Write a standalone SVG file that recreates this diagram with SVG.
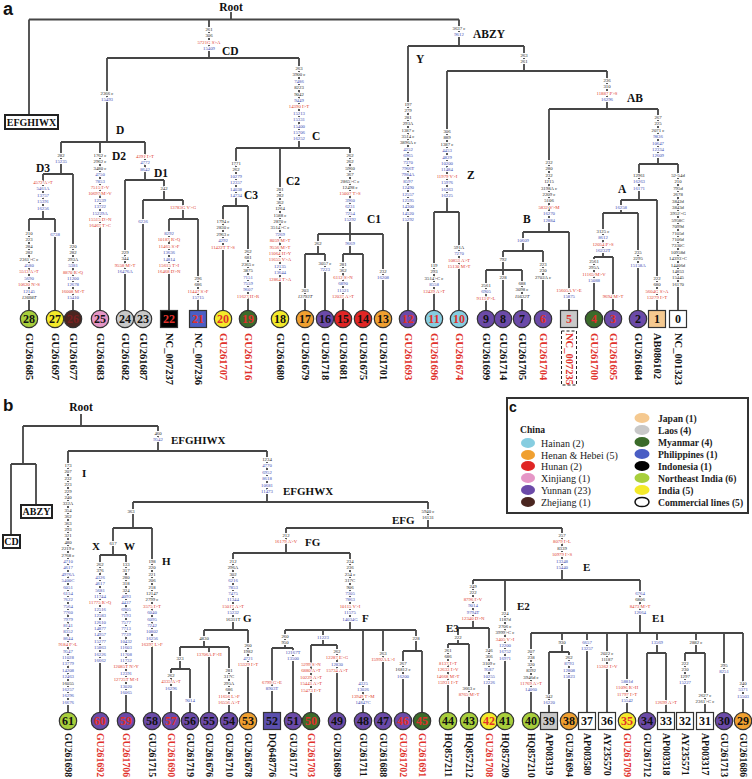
<svg xmlns="http://www.w3.org/2000/svg" width="752" height="779" viewBox="0 0 752 779">
<style>
.ln{fill:none;stroke:#454545;stroke-width:1.8}
.m{font-family:"Liberation Serif",serif;font-size:4.8px;text-anchor:middle;paint-order:stroke;stroke:#fff;stroke-width:2.2px;stroke-linejoin:round}
.k{fill:#222}.b{fill:#3c49b3}.r{fill:#e03a2c}
.cl{font-family:"Liberation Serif",serif;font-weight:bold;font-size:11.5px;fill:#111}
.cb{font-family:"Liberation Serif",serif;font-weight:bold;font-size:11px;fill:#111}
.lf{font-family:"Liberation Serif",serif;font-weight:bold;font-size:10.5px;fill:#111}
#leaves-b .lf{font-size:9.8px}
.lr{fill:#e0302a}
.n{font-family:"Liberation Serif",serif;font-weight:bold;font-size:12px;text-anchor:middle;fill:#111}
.nr{fill:#e0302a}
.s{stroke:#333;stroke-width:1.2}
.bx{fill:#fff;stroke:#222;stroke-width:2}
.bt{font-family:"Liberation Serif",serif;font-weight:bold;font-size:10px;fill:#111;text-anchor:middle}
.pl{font-family:"Liberation Sans",Arial,sans-serif;font-weight:bold;fill:#111}
.lg{font-family:"Liberation Serif",serif;font-size:10px;fill:#222}
.lgb{font-family:"Liberation Serif",serif;font-size:9.6px;font-weight:bold;fill:#222}
</style>
<rect width="752" height="779" fill="#fff"/>
<text class="pl" x="3" y="15" font-size="18">a</text>
<text class="pl" x="3" y="411" font-size="17">b</text>

<g id="connectors">
<path class="ln" d="M231 12V19.5 M29 19.5H459 M29 19.5V115 M209 19.5V58 M107 58H299 M107 58V142 M61 142H145 M61 142V174 M43 174H73 M43 174V219 M29 219H55 M29 219V310.3 M55 219V310.3 M73 174V310.3 M100 142V310.3 M145 142V180 M125 180H164 M125 180V310.3 M164 180V200 M143 200H183 M143 200V310.3 M183 200V219 M169 219H198 M169 219V310.3 M198 219V310.3 M299 58V148 M236 148H350 M236 148V206 M223 206H248 M223 206V310.3 M248 206V310.3 M280 148V310.3 M350 148V234 M318 234H383 M318 234V254 M305 254H325 M305 254V310.3 M325 254V310.3 M350 234V254 M343 254H363 M343 254V310.3 M363 254V310.3 M383 234V310.3 M459 19.5V46 M408 46H524 M408 46V310.3 M524 46V71 M447 71H607 M447 71V212 M434 212H459 M434 212V310.3 M459 212V310.3 M607 71V109 M549 109H658 M549 109V232 M523 232H569 M523 232V251 M503 251H543 M503 251V270 M486 270H522 M486 270V310.3 M503 270V310.3 M522 270V310.3 M543 251V310.3 M569 232V310.3 M658 109V164 M639 164H678 M639 164V200 M621 200H657 M621 200V213 M603 213H638 M603 213V257 M594 257H613 M594 257V310.3 M613 257V310.3 M638 213V310.3 M657 200V310.3 M678 164V310.3"/>
<path class="ln" d="M81 414V426 M23 426H158 M23 426V464 M11 464H36 M11 464V535 M36 464V505 M158 426V451 M68 451H267 M68 451V712.3 M267 451V502 M133 502H428 M133 502V528 M113 528H152 M113 528V555 M100 555H126 M100 555V712.3 M126 555V712.3 M152 528V712.3 M428 502V528 M286 528H562 M286 528V553 M233 553H350 M233 553V630 M204 630H248 M204 630V647 M180 647H229 M180 647V669 M171 669H190 M171 669V712.3 M190 669V712.3 M209 647V712.3 M229 647V712.3 M248 630V712.3 M350 553V630 M285 630H416 M285 630V648 M272 648H293 M272 648V712.3 M293 648V712.3 M323 630V645 M311 645H337 M311 645V712.3 M337 645V712.3 M363 630V712.3 M383 630V712.3 M416 630V651 M403 651H422 M403 651V712.3 M422 651V712.3 M562 528V580 M473 580H640 M473 580V628 M458 628H489 M458 628V644 M448 644H469 M448 644V712.3 M469 644V712.3 M489 628V712.3 M505 580V712.3 M640 580V633 M531 633H743 M531 633V712.3 M562 633V652 M549 652H569 M549 652V712.3 M569 652V712.3 M587 633V712.3 M607 633V712.3 M627 633V712.3 M657 633V653 M647 653H666 M647 653V712.3 M666 653V712.3 M696 633V653 M685 653H705 M685 653V712.3 M705 653V712.3 M724 633V712.3 M743 633V712.3"/>
</g>

<g id="mutations-a">
<text class="m" x="209" y="31"><tspan class="k">261</tspan><tspan x="209" dy="6.4" class="k">306</tspan><tspan x="209" dy="6.4" class="r">5721G S&gt;A</tspan><tspan x="209" dy="6.4" class="b">15409</tspan></text>
<text class="m" x="459" y="30"><tspan class="k">3637 c</tspan><tspan x="459" dy="6.4" class="b">9612</tspan></text>
<text class="m" x="107" y="95"><tspan class="k">2366 c</tspan><tspan x="107" dy="6.4" class="b">15493</tspan></text>
<text class="m" x="61" y="157"><tspan class="k">282</tspan><tspan x="61" dy="6.4" class="b">15235</tspan></text>
<text class="m" x="100" y="157"><tspan class="k">1762 c</tspan><tspan x="100" dy="6.4" class="k">2962 c</tspan><tspan x="100" dy="6.4" class="k">3480 c</tspan><tspan x="100" dy="6.4" class="b">4750</tspan><tspan x="100" dy="6.4" class="b">7853</tspan><tspan x="100" dy="6.4" class="r">7515 I&gt;V</tspan><tspan x="100" dy="6.4" class="r">10697 M&gt;V</tspan><tspan x="100" dy="6.4" class="b">12539</tspan><tspan x="100" dy="6.4" class="b">13722</tspan><tspan x="100" dy="6.4" class="b">15229A</tspan><tspan x="100" dy="6.4" class="r">15515 D&gt;N</tspan><tspan x="100" dy="6.4" class="r">16467 T&gt;C</tspan></text>
<text class="m" x="145" y="158"><tspan class="r">4291 I&gt;T</tspan><tspan x="145" dy="6.4" class="b">4772</tspan><tspan x="145" dy="6.4" class="b">8642</tspan></text>
<text class="m" x="164" y="190"><tspan class="k">242</tspan></text>
<text class="m" x="43" y="184"><tspan class="r">4572 A&gt;T</tspan><tspan x="43" dy="6.4" class="b">5461A</tspan><tspan x="43" dy="6.4" class="b">13757</tspan><tspan x="43" dy="6.4" class="b">15391</tspan><tspan x="43" dy="6.4" class="b">16256</tspan></text>
<text class="m" x="29" y="235"><tspan class="k">210</tspan><tspan x="29" dy="6.4" class="k">223</tspan><tspan x="29" dy="6.4" class="k">284</tspan><tspan x="29" dy="6.4" class="k">282</tspan><tspan x="29" dy="6.4" class="k">2361&gt;C c</tspan><tspan x="29" dy="6.4" class="b">4580</tspan><tspan x="29" dy="6.4" class="r">5513 A&gt;T</tspan><tspan x="29" dy="6.4" class="b">5690</tspan><tspan x="29" dy="6.4" class="r">10620 N&gt;S</tspan><tspan x="29" dy="6.4" class="b">12145</tspan><tspan x="29" dy="6.4" class="k" font-style="italic">13608T</tspan></text>
<text class="m" x="55" y="236"><tspan class="b">6738</tspan></text>
<text class="m" x="73" y="248"><tspan class="k">220</tspan><tspan x="73" dy="6.4" class="k">282</tspan><tspan x="73" dy="6.4" class="k">293A</tspan><tspan x="73" dy="6.4" class="b">5381</tspan><tspan x="73" dy="6.4" class="r">8870 R&gt;Q</tspan><tspan x="73" dy="6.4" class="b">11200</tspan><tspan x="73" dy="6.4" class="b">12678</tspan><tspan x="73" dy="6.4" class="r">16008 M&gt;T</tspan><tspan x="73" dy="6.4" class="b">15410</tspan></text>
<text class="m" x="125" y="254"><tspan class="k">229</tspan><tspan x="125" dy="6.4" class="k">344</tspan><tspan x="125" dy="6.4" class="r">9558 M&gt;T</tspan><tspan x="125" dy="6.4" class="b">16476A</tspan></text>
<text class="m" x="183" y="209"><tspan class="r">13783G V&gt;G</tspan></text>
<text class="m" x="143" y="223"><tspan class="b">6236</tspan></text>
<text class="m" x="169" y="235"><tspan class="b">8292</tspan><tspan x="169" dy="6.4" class="r">10187 R&gt;Q</tspan><tspan x="169" dy="6.4" class="r">11465 S&gt;F</tspan><tspan x="169" dy="6.4" class="b">13636</tspan><tspan x="169" dy="6.4" class="b">14814</tspan><tspan x="169" dy="6.4" class="r">15615 T&gt;I</tspan><tspan x="169" dy="6.4" class="r">16468 D&gt;N</tspan></text>
<text class="m" x="198" y="280"><tspan class="k">296</tspan><tspan x="198" dy="6.4" class="k">686</tspan><tspan x="198" dy="6.4" class="r">11447 S&gt;F</tspan><tspan x="198" dy="6.4" class="b">15715</tspan></text>
<text class="m" x="299" y="70"><tspan class="k">263</tspan><tspan x="299" dy="6.4" class="k">3900 c</tspan><tspan x="299" dy="6.4" class="b">7486</tspan><tspan x="299" dy="6.4" class="k">8223</tspan><tspan x="299" dy="6.4" class="k">9042</tspan><tspan x="299" dy="6.4" class="b">9449</tspan><tspan x="299" dy="6.4" class="r">14390 I&gt;T</tspan><tspan x="299" dy="6.4" class="b">15213</tspan><tspan x="299" dy="6.4" class="b">15331</tspan><tspan x="299" dy="6.4" class="b">15400</tspan><tspan x="299" dy="6.4" class="b">15706</tspan><tspan x="299" dy="6.4" class="b">16252</tspan></text>
<text class="m" x="236" y="165"><tspan class="k">1771</tspan><tspan x="236" dy="6.4" class="k">262</tspan><tspan x="236" dy="6.4" class="b">10279</tspan><tspan x="236" dy="6.4" class="b">12357</tspan><tspan x="236" dy="6.4" class="b">14038</tspan><tspan x="236" dy="6.4" class="b">14734</tspan></text>
<text class="m" x="223" y="223"><tspan class="k">1794 c</tspan><tspan x="223" dy="6.4" class="k">2830 c</tspan><tspan x="223" dy="6.4" class="k">2963 c</tspan><tspan x="223" dy="6.4" class="b">4292</tspan><tspan x="223" dy="6.4" class="r">11422T T&gt;S</tspan></text>
<text class="m" x="248" y="253"><tspan class="k">262</tspan><tspan x="248" dy="6.4" class="k">681</tspan><tspan x="248" dy="6.4" class="k">2365 c</tspan><tspan x="248" dy="6.4" class="k">3875</tspan><tspan x="248" dy="6.4" class="b">7151</tspan><tspan x="248" dy="6.4" class="b">7559</tspan><tspan x="248" dy="6.4" class="b">9607</tspan><tspan x="248" dy="6.4" class="r">11627 H&gt;R</tspan></text>
<text class="m" x="280" y="191"><tspan class="k">281</tspan><tspan x="280" dy="6.4" class="k">282</tspan><tspan x="280" dy="6.4" class="k">362</tspan><tspan x="280" dy="6.4" class="k">1264</tspan><tspan x="280" dy="6.4" class="k">1588 c</tspan><tspan x="280" dy="6.4" class="k">2870 c</tspan><tspan x="280" dy="6.4" class="k">3514&gt;C c</tspan><tspan x="280" dy="6.4" class="b">7269</tspan><tspan x="280" dy="6.4" class="r">8059 M&gt;T</tspan><tspan x="280" dy="6.4" class="r">9556 M&gt;T</tspan><tspan x="280" dy="6.4" class="r">11064 H&gt;Y</tspan><tspan x="280" dy="6.4" class="r">11655 V&gt;A</tspan><tspan x="280" dy="6.4" class="b">12135</tspan><tspan x="280" dy="6.4" class="b">13644</tspan><tspan x="280" dy="6.4" class="r">12864 T&gt;A</tspan></text>
<text class="m" x="350" y="157"><tspan class="k">262</tspan><tspan x="350" dy="6.4" class="k">262</tspan><tspan x="350" dy="6.4" class="k">5960</tspan><tspan x="350" dy="6.4" class="k">367</tspan><tspan x="350" dy="6.4" class="k">2865&gt;C c</tspan><tspan x="350" dy="6.4" class="k">12498 c</tspan><tspan x="350" dy="6.4" class="r">15007 T&gt;S</tspan><tspan x="350" dy="6.4" class="b">3960</tspan><tspan x="350" dy="6.4" class="b">6231</tspan><tspan x="350" dy="6.4" class="b">7254</tspan><tspan x="350" dy="6.4" class="b">15292</tspan></text>
<text class="m" x="318" y="245"><tspan class="k">262</tspan></text>
<text class="m" x="305" y="292"><tspan class="k">203</tspan><tspan x="305" dy="6.4" class="k" font-style="italic">13793T</tspan></text>
<text class="m" x="325" y="265"><tspan class="k">3057 c</tspan><tspan x="325" dy="6.4" class="b">7223</tspan></text>
<text class="m" x="350" y="245"><tspan class="b">9669</tspan></text>
<text class="m" x="343" y="266"><tspan class="k">281</tspan><tspan x="343" dy="6.4" class="k">362</tspan><tspan x="343" dy="6.4" class="r">6112 S&gt;N</tspan><tspan x="343" dy="6.4" class="b">6890</tspan><tspan x="343" dy="6.4" class="b">11521</tspan><tspan x="343" dy="6.4" class="r">12037 A&gt;T</tspan></text>
<text class="m" x="383" y="273"><tspan class="k">232</tspan><tspan x="383" dy="6.4" class="b">16208</tspan></text>
<text class="m" x="408" y="106"><tspan class="k">197</tspan><tspan x="408" dy="6.4" class="k">279</tspan><tspan x="408" dy="6.4" class="k">281</tspan><tspan x="408" dy="6.4" class="k">293A</tspan><tspan x="408" dy="6.4" class="k">1387 c</tspan><tspan x="408" dy="6.4" class="k">3514 c</tspan><tspan x="408" dy="6.4" class="k">3896A c</tspan><tspan x="408" dy="6.4" class="b">4252</tspan><tspan x="408" dy="6.4" class="b">6965</tspan><tspan x="408" dy="6.4" class="b">7370</tspan><tspan x="408" dy="6.4" class="b">7966T</tspan><tspan x="408" dy="6.4" class="b">7984A</tspan><tspan x="408" dy="6.4" class="b">8597</tspan><tspan x="408" dy="6.4" class="b">12490</tspan><tspan x="408" dy="6.4" class="b">12557</tspan><tspan x="408" dy="6.4" class="b">12595</tspan><tspan x="408" dy="6.4" class="b">14300</tspan><tspan x="408" dy="6.4" class="b">14520</tspan><tspan x="408" dy="6.4" class="b">15292</tspan></text>
<text class="m" x="447" y="133"><tspan class="k">306</tspan><tspan x="447" dy="6.4" class="k">889</tspan><tspan x="447" dy="6.4" class="k">1387 c</tspan><tspan x="447" dy="6.4" class="b">4453</tspan><tspan x="447" dy="6.4" class="b">4829</tspan><tspan x="447" dy="6.4" class="b">10200</tspan><tspan x="447" dy="6.4" class="b">11484</tspan><tspan x="447" dy="6.4" class="r">11979 V&gt;I</tspan><tspan x="447" dy="6.4" class="b">15976</tspan><tspan x="447" dy="6.4" class="b">16263</tspan><tspan x="447" dy="6.4" class="b">16225</tspan></text>
<text class="m" x="434" y="267"><tspan class="k">119</tspan><tspan x="434" dy="6.4" class="k">293</tspan><tspan x="434" dy="6.4" class="k">3514&gt;C c</tspan><tspan x="434" dy="6.4" class="b">8558</tspan><tspan x="434" dy="6.4" class="r">12429 A&gt;T</tspan></text>
<text class="m" x="459" y="249"><tspan class="k">591A</tspan><tspan x="459" dy="6.4" class="b">7270</tspan><tspan x="459" dy="6.4" class="r">10853 A&gt;T</tspan><tspan x="459" dy="6.4" class="r">15130 M&gt;T</tspan></text>
<text class="m" x="524" y="57"><tspan class="k">263</tspan><tspan x="524" dy="6.4" class="k">261</tspan></text>
<text class="m" x="607" y="82"><tspan class="k">236</tspan><tspan x="607" dy="6.4" class="k">310</tspan><tspan x="607" dy="6.4" class="r">11887 P&gt;S</tspan><tspan x="607" dy="6.4" class="b">16296</tspan></text>
<text class="m" x="549" y="164"><tspan class="k">232</tspan><tspan x="549" dy="6.4" class="k">280</tspan><tspan x="549" dy="6.4" class="k">232</tspan><tspan x="549" dy="6.4" class="k">1215</tspan><tspan x="549" dy="6.4" class="k">3198A c</tspan><tspan x="549" dy="6.4" class="k">2209 c</tspan><tspan x="549" dy="6.4" class="k">5106</tspan><tspan x="549" dy="6.4" class="r">5832 V&gt;M</tspan><tspan x="549" dy="6.4" class="b">16270</tspan><tspan x="549" dy="6.4" class="b">12884</tspan></text>
<text class="m" x="523" y="242"><tspan class="b">10609</tspan></text>
<text class="m" x="503" y="261"><tspan class="k">792</tspan></text>
<text class="m" x="486" y="287"><tspan class="k">2561</tspan><tspan x="486" dy="6.4" class="b">6905</tspan><tspan x="486" dy="6.4" class="r">9113 P&gt;L</tspan></text>
<text class="m" x="503" y="279"><tspan class="k">228</tspan></text>
<text class="m" x="522" y="285"><tspan class="k">688</tspan><tspan x="522" dy="6.4" class="k">3098 c</tspan><tspan x="522" dy="6.4" class="k" font-style="italic">15632T</tspan></text>
<text class="m" x="543" y="266"><tspan class="k">223</tspan><tspan x="543" dy="6.4" class="k">230</tspan><tspan x="543" dy="6.4" class="k">2702A c</tspan></text>
<text class="m" x="569" y="292"><tspan class="r">15605A V&gt;E</tspan><tspan x="569" dy="6.4" class="b">15875</tspan></text>
<text class="m" x="658" y="119"><tspan class="k">267</tspan><tspan x="658" dy="6.4" class="k">225</tspan><tspan x="658" dy="6.4" class="k">2071 c</tspan><tspan x="658" dy="6.4" class="b">9836</tspan><tspan x="658" dy="6.4" class="b">10647</tspan><tspan x="658" dy="6.4" class="b">12334</tspan><tspan x="658" dy="6.4" class="b">12609</tspan></text>
<text class="m" x="639" y="177"><tspan class="k">12961</tspan><tspan x="639" dy="6.4" class="b">16263</tspan><tspan x="639" dy="6.4" class="b">16171</tspan></text>
<text class="m" x="621" y="209"><tspan class="b">16258</tspan></text>
<text class="m" x="603" y="233"><tspan class="k">3125 c</tspan><tspan x="603" dy="6.4" class="b">8612</tspan><tspan x="603" dy="6.4" class="r">12054 P&gt;S</tspan><tspan x="603" dy="6.4" class="b">16232T</tspan></text>
<text class="m" x="594" y="263"><tspan class="k">2561</tspan><tspan x="594" dy="6.4" class="k">295A</tspan><tspan x="594" dy="6.4" class="r">11165 M&gt;V</tspan><tspan x="594" dy="6.4" class="b">15088</tspan></text>
<text class="m" x="613" y="298"><tspan class="r">9694 M&gt;T</tspan></text>
<text class="m" x="638" y="254"><tspan class="k">235</tspan><tspan x="638" dy="6.4" class="k">2295</tspan><tspan x="638" dy="6.4" class="b">15158A</tspan></text>
<text class="m" x="657" y="280"><tspan class="k">222</tspan><tspan x="657" dy="6.4" class="k">680</tspan><tspan x="657" dy="6.4" class="r">5604G S&gt;A</tspan><tspan x="657" dy="6.4" class="r">13279 I&gt;T</tspan></text>
<text class="m" x="678" y="177"><tspan class="k">52-54d</tspan><tspan x="678" dy="6.4" class="k">210</tspan><tspan x="678" dy="6.4" class="k">795d</tspan><tspan x="678" dy="6.4" class="k">2678</tspan><tspan x="678" dy="6.4" class="k">3842d</tspan><tspan x="678" dy="6.4" class="k">3843d</tspan><tspan x="678" dy="6.4" class="k">3952&gt;G</tspan><tspan x="678" dy="6.4" class="k">5958C</tspan><tspan x="678" dy="6.4" class="k">7099d</tspan><tspan x="678" dy="6.4" class="k">7105d</tspan><tspan x="678" dy="6.4" class="k">7106d</tspan><tspan x="678" dy="6.4" class="k">7330C</tspan><tspan x="678" dy="6.4" class="k">10958d</tspan><tspan x="678" dy="6.4" class="k">14393&gt;C</tspan><tspan x="678" dy="6.4" class="k">14406d</tspan><tspan x="678" dy="6.4" class="k">14853</tspan><tspan x="678" dy="6.4" class="k">15445</tspan><tspan x="678" dy="6.4" class="k">16170</tspan></text>
</g>

<g id="mutations-b">
<text class="m" x="158" y="435"><tspan class="k">460</tspan><tspan x="158" dy="6.4" class="b">9542</tspan></text>
<text class="m" x="68" y="467"><tspan class="k">173</tspan><tspan x="68" dy="6.4" class="k">207</tspan><tspan x="68" dy="6.4" class="k">232</tspan><tspan x="68" dy="6.4" class="k">223</tspan><tspan x="68" dy="6.4" class="k">229</tspan><tspan x="68" dy="6.4" class="k">240</tspan><tspan x="68" dy="6.4" class="k">332A</tspan><tspan x="68" dy="6.4" class="k">354</tspan><tspan x="68" dy="6.4" class="k">362</tspan><tspan x="68" dy="6.4" class="k">363</tspan><tspan x="68" dy="6.4" class="k">293</tspan><tspan x="68" dy="6.4" class="k">321</tspan><tspan x="68" dy="6.4" class="k">480</tspan><tspan x="68" dy="6.4" class="k">2219 c</tspan><tspan x="68" dy="6.4" class="k">2768 c</tspan><tspan x="68" dy="6.4" class="b">4710</tspan><tspan x="68" dy="6.4" class="b">4617</tspan><tspan x="68" dy="6.4" class="b">4976A</tspan><tspan x="68" dy="6.4" class="b">5400C</tspan><tspan x="68" dy="6.4" class="b">6051</tspan><tspan x="68" dy="6.4" class="b">6154</tspan><tspan x="68" dy="6.4" class="b">7622</tspan><tspan x="68" dy="6.4" class="b">7564</tspan><tspan x="68" dy="6.4" class="b">7760</tspan><tspan x="68" dy="6.4" class="b">7979</tspan><tspan x="68" dy="6.4" class="b">8141</tspan><tspan x="68" dy="6.4" class="b">8352</tspan><tspan x="68" dy="6.4" class="b">8644</tspan><tspan x="68" dy="6.4" class="r">9184 F&gt;L</tspan><tspan x="68" dy="6.4" class="b">9547</tspan><tspan x="68" dy="6.4" class="b">11028</tspan><tspan x="68" dy="6.4" class="b">13779</tspan><tspan x="68" dy="6.4" class="b">14208</tspan><tspan x="68" dy="6.4" class="b">12463</tspan><tspan x="68" dy="6.4" class="k">16055</tspan><tspan x="68" dy="6.4" class="b">16257</tspan><tspan x="68" dy="6.4" class="b">16296</tspan><tspan x="68" dy="6.4" class="b">16676</tspan></text>
<text class="m" x="267" y="461"><tspan class="k">1234</tspan><tspan x="267" dy="6.4" class="b">4770</tspan><tspan x="267" dy="6.4" class="b">6952</tspan><tspan x="267" dy="6.4" class="b">8618</tspan><tspan x="267" dy="6.4" class="b">10681</tspan><tspan x="267" dy="6.4" class="b">11473</tspan></text>
<text class="m" x="131" y="513"><tspan class="k">363</tspan></text>
<text class="m" x="113" y="545"><tspan class="k">617</tspan></text>
<text class="m" x="100" y="566"><tspan class="k">262</tspan><tspan x="100" dy="6.4" class="k">376</tspan><tspan x="100" dy="6.4" class="b">4326</tspan><tspan x="100" dy="6.4" class="b">4617</tspan><tspan x="100" dy="6.4" class="b">5681</tspan><tspan x="100" dy="6.4" class="b">11744</tspan><tspan x="100" dy="6.4" class="r">11775 R&gt;Q</tspan><tspan x="100" dy="6.4" class="b">12516</tspan><tspan x="100" dy="6.4" class="b">12583</tspan><tspan x="100" dy="6.4" class="b">12610</tspan><tspan x="100" dy="6.4" class="b">14877</tspan><tspan x="100" dy="6.4" class="b">14957</tspan><tspan x="100" dy="6.4" class="b">15277</tspan><tspan x="100" dy="6.4" class="b">15863</tspan><tspan x="100" dy="6.4" class="b">16226</tspan><tspan x="100" dy="6.4" class="b">16662</tspan></text>
<text class="m" x="126" y="566"><tspan class="k">133</tspan><tspan x="126" dy="6.4" class="k">317</tspan><tspan x="126" dy="6.4" class="k">280</tspan><tspan x="126" dy="6.4" class="k">318</tspan><tspan x="126" dy="6.4" class="k">324</tspan><tspan x="126" dy="6.4" class="b">4093</tspan><tspan x="126" dy="6.4" class="b">4437</tspan><tspan x="126" dy="6.4" class="b">6905</tspan><tspan x="126" dy="6.4" class="b">7193</tspan><tspan x="126" dy="6.4" class="b">7577</tspan><tspan x="126" dy="6.4" class="b">7713</tspan><tspan x="126" dy="6.4" class="b">7739</tspan><tspan x="126" dy="6.4" class="b">10432</tspan><tspan x="126" dy="6.4" class="b">11603</tspan><tspan x="126" dy="6.4" class="b">11708</tspan><tspan x="126" dy="6.4" class="b">11732</tspan><tspan x="126" dy="6.4" class="r">12085T N&gt;Y</tspan><tspan x="126" dy="6.4" class="b">12391</tspan><tspan x="126" dy="6.4" class="r">12725T M&gt;I</tspan><tspan x="126" dy="6.4" class="b">13020</tspan><tspan x="126" dy="6.4" class="b">16065</tspan></text>
<text class="m" x="152" y="563"><tspan class="k">198</tspan><tspan x="152" dy="6.4" class="k">220</tspan><tspan x="152" dy="6.4" class="k">221</tspan><tspan x="152" dy="6.4" class="k">206</tspan><tspan x="152" dy="6.4" class="k">218</tspan><tspan x="152" dy="6.4" class="k">12147</tspan><tspan x="152" dy="6.4" class="k">2799 c</tspan><tspan x="152" dy="6.4" class="r">3575 I&gt;T</tspan><tspan x="152" dy="6.4" class="b">6040</tspan><tspan x="152" dy="6.4" class="b">6095</tspan><tspan x="152" dy="6.4" class="b">7242</tspan><tspan x="152" dy="6.4" class="b">10802</tspan><tspan x="152" dy="6.4" class="b">16256</tspan><tspan x="152" dy="6.4" class="r">16397 L&gt;F</tspan></text>
<text class="m" x="428" y="513"><tspan class="k">5940 c</tspan><tspan x="428" dy="6.4" class="k">16131</tspan></text>
<text class="m" x="286" y="537"><tspan class="k">212</tspan><tspan x="286" dy="6.4" class="r">16179 A&gt;V</tspan></text>
<text class="m" x="233" y="563"><tspan class="k">212</tspan><tspan x="233" dy="6.4" class="k">296A</tspan><tspan x="233" dy="6.4" class="k">302</tspan><tspan x="233" dy="6.4" class="b">6216</tspan><tspan x="233" dy="6.4" class="b">7853</tspan><tspan x="233" dy="6.4" class="b">7475</tspan><tspan x="233" dy="6.4" class="b">11344</tspan><tspan x="233" dy="6.4" class="r">15017 A&gt;T</tspan><tspan x="233" dy="6.4" class="b">15232</tspan><tspan x="233" dy="6.4" class="k">16311T</tspan></text>
<text class="m" x="204" y="640"><tspan class="k">4830</tspan></text>
<text class="m" x="180" y="660"><tspan class="k">323</tspan></text>
<text class="m" x="171" y="677"><tspan class="k">262</tspan><tspan x="171" dy="6.4" class="r">4335 A&gt;T</tspan><tspan x="171" dy="6.4" class="b">16296</tspan></text>
<text class="m" x="190" y="702"><tspan class="b">9014</tspan></text>
<text class="m" x="209" y="656"><tspan class="r">13706A P&gt;H</tspan></text>
<text class="m" x="229" y="672"><tspan class="k">281</tspan><tspan x="229" dy="6.4" class="k">317C</tspan><tspan x="229" dy="6.4" class="k">295A</tspan><tspan x="229" dy="6.4" class="k">686</tspan><tspan x="229" dy="6.4" class="r">11656 L&gt;P</tspan><tspan x="229" dy="6.4" class="r">16556 A&gt;T</tspan></text>
<text class="m" x="248" y="647"><tspan class="k">260</tspan><tspan x="248" dy="6.4" class="k">1982</tspan><tspan x="248" dy="6.4" class="b">4721</tspan><tspan x="248" dy="6.4" class="r">15329 I&gt;T</tspan></text>
<text class="m" x="350" y="563"><tspan class="k">234</tspan><tspan x="350" dy="6.4" class="k">236</tspan><tspan x="350" dy="6.4" class="k">254 c</tspan><tspan x="350" dy="6.4" class="k">317C</tspan><tspan x="350" dy="6.4" class="k">906</tspan><tspan x="350" dy="6.4" class="b">7305</tspan><tspan x="350" dy="6.4" class="b">7863</tspan><tspan x="350" dy="6.4" class="r">10115 V&gt;I</tspan><tspan x="350" dy="6.4" class="b">11575</tspan><tspan x="350" dy="6.4" class="b">14034G</tspan></text>
<text class="m" x="285" y="638"><tspan class="k">260</tspan><tspan x="285" dy="6" class="k">950</tspan></text>
<text class="m" x="272" y="684"><tspan class="r">6799 G&gt;E</tspan><tspan x="272" dy="6.4" class="b">8903T</tspan></text>
<text class="m" x="293" y="654"><tspan class="b">12167T</tspan><tspan x="293" dy="6.4" class="b">13500</tspan></text>
<text class="m" x="323" y="639"><tspan class="b">11223</tspan></text>
<text class="m" x="311" y="666"><tspan class="r">5299 S&gt;N</tspan><tspan x="311" dy="6.4" class="r">6880 A&gt;T</tspan><tspan x="311" dy="6.4" class="r">10229 A&gt;T</tspan><tspan x="311" dy="6.4" class="r">15443 A&gt;T</tspan><tspan x="311" dy="6.4" class="r">15473 I&gt;T</tspan></text>
<text class="m" x="337" y="653"><tspan class="k">262</tspan><tspan x="337" dy="6.4" class="r">12287 E&gt;G</tspan><tspan x="337" dy="6.4" class="b">12830</tspan><tspan x="337" dy="6.4" class="r">15734 A&gt;T</tspan></text>
<text class="m" x="363" y="685"><tspan class="b">4325</tspan><tspan x="363" dy="6.4" class="b">13026</tspan><tspan x="363" dy="6.4" class="r">13949 T&gt;M</tspan><tspan x="363" dy="6.4" class="b">14847C</tspan></text>
<text class="m" x="383" y="655"><tspan class="k">263</tspan><tspan x="383" dy="6.4" class="r">15992A L&gt;I</tspan></text>
<text class="m" x="416" y="640"><tspan class="k">228</tspan></text>
<text class="m" x="403" y="665"><tspan class="k">267</tspan><tspan x="403" dy="6.4" class="k">16812 c</tspan><tspan x="403" dy="6.4" class="b">16200</tspan></text>
<text class="m" x="562" y="537"><tspan class="k">257</tspan><tspan x="562" dy="6.4" class="r">8079 I&gt;L</tspan><tspan x="562" dy="6.4" class="k">8339</tspan><tspan x="562" dy="6.4" class="r">10979 I&gt;S</tspan><tspan x="562" dy="6.4" class="b">13348</tspan><tspan x="562" dy="6.4" class="b">15440</tspan></text>
<text class="m" x="473" y="588"><tspan class="k">249</tspan><tspan x="473" dy="6.4" class="k">222</tspan><tspan x="473" dy="6.4" class="r">8796 I&gt;V</tspan><tspan x="473" dy="6.4" class="b">9014</tspan><tspan x="473" dy="6.4" class="b">9794T</tspan><tspan x="473" dy="6.4" class="r">12340 D&gt;N</tspan></text>
<text class="m" x="458" y="639"><tspan class="k">222</tspan></text>
<text class="m" x="448" y="652"><tspan class="k">261</tspan><tspan x="448" dy="6.4" class="k">686</tspan><tspan x="448" dy="6.4" class="r">8137 I&gt;T</tspan><tspan x="448" dy="6.4" class="r">12633 I&gt;V</tspan><tspan x="448" dy="6.4" class="r">14668 M&gt;T</tspan><tspan x="448" dy="6.4" class="r">15931 I&gt;T</tspan></text>
<text class="m" x="469" y="690"><tspan class="k">3663 c</tspan><tspan x="469" dy="6.4" class="r">8765 M&gt;T</tspan></text>
<text class="m" x="489" y="652"><tspan class="k">246</tspan><tspan x="489" dy="6.4" class="k">366</tspan><tspan x="489" dy="6.4" class="k">3109 c</tspan><tspan x="489" dy="6.4" class="b">9587</tspan><tspan x="489" dy="6.4" class="b">10255</tspan><tspan x="489" dy="6.4" class="b">12226</tspan></text>
<text class="m" x="505" y="615"><tspan class="k">224</tspan><tspan x="505" dy="6.4" class="k">1187d</tspan><tspan x="505" dy="6.4" class="k">2706 c</tspan><tspan x="505" dy="6.4" class="k">3999&gt;C c</tspan><tspan x="505" dy="6.4" class="r">3405 V&gt;I</tspan><tspan x="505" dy="6.4" class="b">12200</tspan><tspan x="505" dy="6.4" class="b">16752</tspan><tspan x="505" dy="6.4" class="b">16971</tspan></text>
<text class="m" x="640" y="595"><tspan class="b">6764</tspan><tspan x="640" dy="6.4" class="k">6806</tspan><tspan x="640" dy="6.4" class="r">8473 M&gt;T</tspan><tspan x="640" dy="6.4" class="b">12664</tspan></text>
<text class="m" x="531" y="653"><tspan class="k">207</tspan><tspan x="531" dy="6.4" class="k">238</tspan><tspan x="531" dy="6.4" class="k">320</tspan><tspan x="531" dy="6.4" class="k">8392</tspan><tspan x="531" dy="6.4" class="k">3946d c</tspan><tspan x="531" dy="6.4" class="r">11769 A&gt;T</tspan><tspan x="531" dy="6.4" class="b">14060</tspan></text>
<text class="m" x="562" y="644"><tspan class="k">930</tspan></text>
<text class="m" x="549" y="698"><tspan class="k">342</tspan><tspan x="549" dy="6.4" class="b">16220</tspan></text>
<text class="m" x="569" y="659"><tspan class="k">262</tspan><tspan x="569" dy="6.4" class="b">8793</tspan><tspan x="569" dy="6.4" class="b">12808</tspan><tspan x="569" dy="6.4" class="b">15823</tspan></text>
<text class="m" x="587" y="644"><tspan class="b">6657</tspan><tspan x="587" dy="6.4" class="b">13257</tspan></text>
<text class="m" x="607" y="655"><tspan class="k">2022 c</tspan><tspan x="607" dy="6.4" class="k">11187</tspan><tspan x="607" dy="6.4" class="r">15362 I&gt;V</tspan></text>
<text class="m" x="627" y="683"><tspan class="b">5881d</tspan><tspan x="627" dy="6.4" class="r">11096 R&gt;H</tspan><tspan x="627" dy="6.4" class="r">11797 I&gt;T</tspan><tspan x="627" dy="6.4" class="b">15542</tspan></text>
<text class="m" x="657" y="644"><tspan class="b">13569</tspan></text>
<text class="m" x="666" y="704"><tspan class="r">12699 A&gt;T</tspan></text>
<text class="m" x="696" y="644"><tspan class="k">2882 c</tspan></text>
<text class="m" x="685" y="665"><tspan class="k">222</tspan><tspan x="685" dy="6.4" class="k">230</tspan><tspan x="685" dy="6.4" class="k">1297</tspan><tspan x="685" dy="6.4" class="b">15227</tspan></text>
<text class="m" x="705" y="697"><tspan class="k">2627 c</tspan><tspan x="705" dy="6.4" class="k">2361&gt;C c</tspan></text>
<text class="m" x="724" y="667"><tspan class="k">295</tspan><tspan x="724" dy="6.4" class="b">8251</tspan></text>
<text class="m" x="743" y="685"><tspan class="k">240</tspan><tspan x="743" dy="6.4" class="b">5371</tspan><tspan x="743" dy="6.4" class="b">15503</tspan></text>
</g>

<g id="clades-a">
<text class="cl" x="231" y="11" text-anchor="middle" font-size="12.5">Root</text>
<g id="box-EFGHIWX-a"><rect class="bx" x="5" y="115" width="53" height="14"/><text class="bt" x="31.5" y="126">EFGHIWX</text></g>
<text class="cl" x="222" y="55">CD</text>
<text class="cl" x="473" y="38">ABZY</text>
<text class="cl" x="416" y="63">Y</text>
<text class="cl" x="116" y="134">D</text>
<text class="cl" x="112" y="160">D2</text>
<text class="cl" x="36" y="172">D3</text>
<text class="cl" x="154" y="177">D1</text>
<text class="cl" x="312" y="140">C</text>
<text class="cl" x="286" y="185">C2</text>
<text class="cl" x="244" y="199">C3</text>
<text class="cl" x="367" y="223">C1</text>
<text class="cl" x="467" y="179">Z</text>
<text class="cl" x="627" y="102">AB</text>
<text class="cl" x="618" y="193">A</text>
<text class="cl" x="523" y="223">B</text>
</g>

<g id="clades-b">
<text class="cl" x="81" y="411" text-anchor="middle" font-size="12">Root</text>
<g id="box-ABZY-b"><rect class="bx" x="21" y="505" width="31" height="13"/><text class="bt" x="36.5" y="515">ABZY</text></g>
<g id="box-CD-b"><rect class="bx" x="3" y="535" width="17" height="13"/><text class="bt" x="11.5" y="545">CD</text></g>
<text class="cb" x="171" y="444">EFGHIWX</text>
<text class="cb" x="82" y="477">I</text>
<text class="cb" x="283" y="495">EFGHWX</text>
<text class="cb" x="92" y="550">X</text>
<text class="cb" x="124" y="550">W</text>
<text class="cb" x="162" y="565">H</text>
<text class="cb" x="392" y="524">EFG</text>
<text class="cb" x="305" y="546">FG</text>
<text class="cb" x="243" y="622">G</text>
<text class="cb" x="362" y="622">F</text>
<text class="cb" x="583" y="571">E</text>
<text class="cb" x="517" y="610">E2</text>
<text class="cb" x="652" y="622">E1</text>
<text class="cb" x="446" y="632">E3</text>
</g>

<g id="leaves-a">
<g id="a28"><circle class="s" cx="29" cy="319" r="8.7" fill="#a8cf3c"/><text class="n" x="29" y="323">28</text><text class="lf" transform="translate(25.5 333) rotate(90)">GU261685</text></g>
<g id="a27"><circle class="s" cx="55" cy="319" r="8.7" fill="#f4ea2a"/><text class="n" x="55" y="323">27</text><text class="lf" transform="translate(51.5 333) rotate(90)">GU261697</text></g>
<g id="a26"><circle class="s" cx="73" cy="319" r="8.7" fill="#4a2620"/><text class="n" x="73" y="323" style="fill:#7a2020">26</text><text class="lf" transform="translate(69.5 333) rotate(90)">GU261677</text></g>
<g id="a25"><circle class="s" cx="100" cy="319" r="8.7" fill="#e596c6"/><text class="n" x="100" y="323">25</text><text class="lf" transform="translate(96.5 333) rotate(90)">GU261683</text></g>
<g id="a24"><circle class="s" cx="125" cy="319" r="8.7" fill="#c8c8c8"/><text class="n" x="125" y="323">24</text><text class="lf" transform="translate(121.5 333) rotate(90)">GU261682</text></g>
<g id="a23"><circle class="s" cx="143" cy="319" r="8.7" fill="#c8c8c8"/><text class="n" x="143" y="323">23</text><text class="lf" transform="translate(139.5 333) rotate(90)">GU261687</text></g>
<g id="a22"><rect class="s" x="160.5" y="310.5" width="17" height="17" fill="#000"/><text class="n nr" x="169" y="323">22</text><text class="lf" transform="translate(165.5 333) rotate(90)">NC_007237</text></g>
<g id="a21"><rect class="s" x="189.5" y="310.5" width="17" height="17" fill="#4a5ec4"/><text class="n nr" x="198" y="323">21</text><text class="lf" transform="translate(194.5 333) rotate(90)">NC_007236</text></g>
<g id="a20"><circle class="s" cx="223" cy="319" r="8.7" fill="#f4ea2a"/><text class="n nr" x="223" y="323">20</text><text class="lf lr" transform="translate(219.5 333) rotate(90)">GU261707</text></g>
<g id="a19"><circle class="s" cx="248" cy="319" r="8.7" fill="#3b6b2a"/><text class="n nr" x="248" y="323">19</text><text class="lf lr" transform="translate(244.5 333) rotate(90)">GU261716</text></g>
<g id="a18"><circle class="s" cx="280" cy="319" r="8.7" fill="#f4ea2a"/><text class="n" x="280" y="323">18</text><text class="lf" transform="translate(276.5 333) rotate(90)">GU261680</text></g>
<g id="a17"><circle class="s" cx="305" cy="319" r="8.7" fill="#f0a030"/><text class="n" x="305" y="323">17</text><text class="lf" transform="translate(301.5 333) rotate(90)">GU261679</text></g>
<g id="a16"><circle class="s" cx="325" cy="319" r="8.7" fill="#6b4aa8"/><text class="n" x="325" y="323">16</text><text class="lf" transform="translate(321.5 333) rotate(90)">GU261718</text></g>
<g id="a15"><circle class="s" cx="343" cy="319" r="8.7" fill="#e02525"/><text class="n" x="343" y="323">15</text><text class="lf" transform="translate(339.5 333) rotate(90)">GU261681</text></g>
<g id="a14"><circle class="s" cx="363" cy="319" r="8.7" fill="#e02525"/><text class="n" x="363" y="323">14</text><text class="lf" transform="translate(359.5 333) rotate(90)">GU261675</text></g>
<g id="a13"><circle class="s" cx="383" cy="319" r="8.7" fill="#f0a030"/><text class="n" x="383" y="323">13</text><text class="lf" transform="translate(379.5 333) rotate(90)">GU261701</text></g>
<g id="a12"><circle class="s" cx="408" cy="319" r="8.7" fill="#6b4aa8"/><text class="n nr" x="408" y="323">12</text><text class="lf lr" transform="translate(404.5 333) rotate(90)">GU261693</text></g>
<g id="a11"><circle class="s" cx="434" cy="319" r="8.7" fill="#86cde0"/><text class="n nr" x="434" y="323">11</text><text class="lf lr" transform="translate(430.5 333) rotate(90)">GU261696</text></g>
<g id="a10"><circle class="s" cx="459" cy="319" r="8.7" fill="#86cde0"/><text class="n nr" x="459" y="323">10</text><text class="lf lr" transform="translate(455.5 333) rotate(90)">GU261674</text></g>
<g id="a9"><circle class="s" cx="486" cy="319" r="8.7" fill="#6b4aa8"/><text class="n" x="486" y="323">9</text><text class="lf" transform="translate(482.5 333) rotate(90)">GU261699</text></g>
<g id="a8"><circle class="s" cx="503" cy="319" r="8.7" fill="#6b4aa8"/><text class="n" x="503" y="323">8</text><text class="lf" transform="translate(499.5 333) rotate(90)">GU261714</text></g>
<g id="a7"><circle class="s" cx="522" cy="319" r="8.7" fill="#6b4aa8"/><text class="n" x="522" y="323">7</text><text class="lf" transform="translate(518.5 333) rotate(90)">GU261705</text></g>
<g id="a6"><circle class="s" cx="543" cy="319" r="8.7" fill="#6b4aa8"/><text class="n nr" x="543" y="323">6</text><text class="lf lr" transform="translate(539.5 333) rotate(90)">GU261704</text></g>
<g id="a5"><rect class="s" x="560.5" y="310.5" width="17" height="17" fill="#c8c8c8"/><text class="n nr" x="569" y="323">5</text><rect x="561.5" y="331" width="15" height="54" fill="none" stroke="#222" stroke-width="1" stroke-dasharray="3 2"/><text class="lf lr" transform="translate(565.5 333) rotate(90)">NC_007235</text></g>
<g id="a4"><circle class="s" cx="594" cy="319" r="8.7" fill="#3b6b2a"/><text class="n nr" x="594" y="323">4</text><text class="lf lr" transform="translate(590.5 333) rotate(90)">GU261700</text></g>
<g id="a3"><circle class="s" cx="613" cy="319" r="8.7" fill="#6b4aa8"/><text class="n nr" x="613" y="323">3</text><text class="lf lr" transform="translate(609.5 333) rotate(90)">GU261695</text></g>
<g id="a2"><circle class="s" cx="638" cy="319" r="8.7" fill="#6b4aa8"/><text class="n" x="638" y="323">2</text><text class="lf" transform="translate(634.5 333) rotate(90)">GU261684</text></g>
<g id="a1"><rect class="s" x="648.5" y="310.5" width="17" height="17" fill="#f5c990"/><text class="n" x="657" y="323">1</text><text class="lf" transform="translate(653.5 333) rotate(90)">AB086102</text></g>
<g id="a0"><rect class="s" x="669.5" y="310.5" width="17" height="17" fill="#fff"/><text class="n" x="678" y="323">0</text><text class="lf" transform="translate(674.5 333) rotate(90)">NC_001323</text></g>
</g>

<g id="leaves-b">
<g id="b61"><circle class="s" cx="68" cy="721" r="8.7" fill="#a8cf3c"/><text class="n" x="68" y="725">61</text><text class="lf" transform="translate(64.5 733) rotate(90)">GU261698</text></g>
<g id="b60"><circle class="s" cx="100" cy="721" r="8.7" fill="#6b4aa8"/><text class="n nr" x="100" y="725">60</text><text class="lf lr" transform="translate(96.5 733) rotate(90)">GU261692</text></g>
<g id="b59"><circle class="s" cx="126" cy="721" r="8.7" fill="#6b4aa8"/><text class="n nr" x="126" y="725">59</text><text class="lf lr" transform="translate(122.5 733) rotate(90)">GU261706</text></g>
<g id="b58"><circle class="s" cx="152" cy="721" r="8.7" fill="#6b4aa8"/><text class="n" x="152" y="725">58</text><text class="lf" transform="translate(148.5 733) rotate(90)">GU261715</text></g>
<g id="b57"><circle class="s" cx="171" cy="721" r="8.7" fill="#6b4aa8"/><text class="n nr" x="171" y="725">57</text><text class="lf lr" transform="translate(167.5 733) rotate(90)">GU261690</text></g>
<g id="b56"><circle class="s" cx="190" cy="721" r="8.7" fill="#6b4aa8"/><text class="n" x="190" y="725">56</text><text class="lf" transform="translate(186.5 733) rotate(90)">GU261719</text></g>
<g id="b55"><circle class="s" cx="209" cy="721" r="8.7" fill="#6b4aa8"/><text class="n" x="209" y="725">55</text><text class="lf" transform="translate(205.5 733) rotate(90)">GU261676</text></g>
<g id="b54"><circle class="s" cx="229" cy="721" r="8.7" fill="#6b4aa8"/><text class="n" x="229" y="725">54</text><text class="lf" transform="translate(225.5 733) rotate(90)">GU261710</text></g>
<g id="b53"><circle class="s" cx="248" cy="721" r="8.7" fill="#f0a030"/><text class="n" x="248" y="725">53</text><text class="lf" transform="translate(244.5 733) rotate(90)">GU261678</text></g>
<g id="b52"><rect class="s" x="263.5" y="712.5" width="17" height="17" fill="#5b4fae"/><text class="n" x="272" y="725">52</text><text class="lf" transform="translate(268.5 733) rotate(90)">DQ648776</text></g>
<g id="b51"><circle class="s" cx="293" cy="721" r="8.7" fill="#6b4aa8"/><text class="n" x="293" y="725">51</text><text class="lf" transform="translate(289.5 733) rotate(90)">GU261717</text></g>
<g id="b50"><circle class="s" cx="311" cy="721" r="8.7" fill="#3b6b2a"/><text class="n nr" x="311" y="725">50</text><text class="lf lr" transform="translate(307.5 733) rotate(90)">GU261703</text></g>
<g id="b49"><circle class="s" cx="337" cy="721" r="8.7" fill="#6b4aa8"/><text class="n" x="337" y="725">49</text><text class="lf" transform="translate(333.5 733) rotate(90)">GU261689</text></g>
<g id="b48"><circle class="s" cx="363" cy="721" r="8.7" fill="#6b4aa8"/><text class="n" x="363" y="725">48</text><text class="lf" transform="translate(359.5 733) rotate(90)">GU261711</text></g>
<g id="b47"><circle class="s" cx="383" cy="721" r="8.7" fill="#6b4aa8"/><text class="n" x="383" y="725">47</text><text class="lf" transform="translate(379.5 733) rotate(90)">GU261688</text></g>
<g id="b46"><circle class="s" cx="403" cy="721" r="8.7" fill="#6b4aa8"/><text class="n nr" x="403" y="725">46</text><text class="lf lr" transform="translate(399.5 733) rotate(90)">GU261702</text></g>
<g id="b45"><circle class="s" cx="422" cy="721" r="8.7" fill="#3b6b2a"/><text class="n nr" x="422" y="725">45</text><text class="lf lr" transform="translate(418.5 733) rotate(90)">GU261691</text></g>
<g id="b44"><circle class="s" cx="448" cy="721" r="8.7" fill="#a8cf3c"/><text class="n" x="448" y="725">44</text><text class="lf" transform="translate(444.5 733) rotate(90)">HQ857211</text></g>
<g id="b43"><circle class="s" cx="469" cy="721" r="8.7" fill="#a8cf3c"/><text class="n" x="469" y="725">43</text><text class="lf" transform="translate(465.5 733) rotate(90)">HQ857212</text></g>
<g id="b42"><circle class="s" cx="489" cy="721" r="8.7" fill="#f4ea2a"/><text class="n nr" x="489" y="725">42</text><text class="lf lr" transform="translate(485.5 733) rotate(90)">GU261708</text></g>
<g id="b41"><circle class="s" cx="505" cy="721" r="8.7" fill="#a8cf3c"/><text class="n" x="505" y="725">41</text><text class="lf" transform="translate(501.5 733) rotate(90)">HQ857209</text></g>
<g id="b40"><circle class="s" cx="531" cy="721" r="8.7" fill="#a8cf3c"/><text class="n" x="531" y="725">40</text><text class="lf" transform="translate(527.5 733) rotate(90)">HQ857210</text></g>
<g id="b39"><rect class="s" x="540.5" y="712.5" width="17" height="17" fill="#c8c8c8"/><text class="n" x="549" y="725">39</text><text class="lf" transform="translate(545.5 733) rotate(90)">AP003319</text></g>
<g id="b38"><circle class="s" cx="569" cy="721" r="8.7" fill="#f0a030"/><text class="n" x="569" y="725">38</text><text class="lf" transform="translate(565.5 733) rotate(90)">GU261694</text></g>
<g id="b37"><rect class="s" x="578.5" y="712.5" width="17" height="17" fill="#fff"/><text class="n" x="587" y="725">37</text><text class="lf" transform="translate(583.5 733) rotate(90)">AP003580</text></g>
<g id="b36"><rect class="s" x="598.5" y="712.5" width="17" height="17" fill="#fff"/><text class="n" x="607" y="725">36</text><text class="lf" transform="translate(603.5 733) rotate(90)">AY235570</text></g>
<g id="b35"><circle class="s" cx="627" cy="721" r="8.7" fill="#f4ea2a"/><text class="n nr" x="627" y="725">35</text><text class="lf lr" transform="translate(623.5 733) rotate(90)">GU261709</text></g>
<g id="b34"><circle class="s" cx="647" cy="721" r="8.7" fill="#6b4aa8"/><text class="n" x="647" y="725">34</text><text class="lf" transform="translate(643.5 733) rotate(90)">GU261712</text></g>
<g id="b33"><rect class="s" x="657.5" y="712.5" width="17" height="17" fill="#fff"/><text class="n" x="666" y="725">33</text><text class="lf" transform="translate(662.5 733) rotate(90)">AP003318</text></g>
<g id="b32"><rect class="s" x="676.5" y="712.5" width="17" height="17" fill="#fff"/><text class="n" x="685" y="725">32</text><text class="lf" transform="translate(681.5 733) rotate(90)">AY235571</text></g>
<g id="b31"><rect class="s" x="696.5" y="712.5" width="17" height="17" fill="#fff"/><text class="n" x="705" y="725">31</text><text class="lf" transform="translate(701.5 733) rotate(90)">AP003317</text></g>
<g id="b30"><circle class="s" cx="724" cy="721" r="8.7" fill="#6b4aa8"/><text class="n" x="724" y="725">30</text><text class="lf" transform="translate(720.5 733) rotate(90)">GU261713</text></g>
<g id="b29"><circle class="s" cx="743" cy="721" r="8.7" fill="#f0a030"/><text class="n" x="743" y="725">29</text><text class="lf" transform="translate(739.5 733) rotate(90)">GU261686</text></g>
</g>

<g id="legend">
<rect x="507" y="398" width="241" height="115" fill="#fff" stroke="#333" stroke-width="2"/>
<text class="pl" x="509" y="412" font-size="14">c</text>
<text class="lgb" x="520" y="433" font-size="10.5">China</text>
<ellipse cx="528" cy="443" rx="7" ry="5" fill="#86cde0"/><text class="lg" x="541" y="446.5">Hainan (2)</text>
<ellipse cx="528" cy="455" rx="7" ry="5" fill="#f0a030"/><text class="lg" x="541" y="458.5">Henan &amp; Hebei (5)</text>
<ellipse cx="528" cy="466" rx="7" ry="5" fill="#e02525"/><text class="lg" x="541" y="469.5">Hunan (2)</text>
<ellipse cx="528" cy="478" rx="7" ry="5" fill="#e596c6"/><text class="lg" x="541" y="481.5">Xinjiang (1)</text>
<ellipse cx="528" cy="490" rx="7" ry="5" fill="#6b4aa8"/><text class="lg" x="541" y="493.5">Yunnan (23)</text>
<ellipse cx="528" cy="502" rx="7" ry="5" fill="#4a2620"/><text class="lg" x="541" y="505.5">Zhejiang (1)</text>
<ellipse cx="642" cy="418" rx="7.5" ry="5" fill="#f5c990"/><text class="lgb" x="658" y="421.5">Japan (1)</text>
<ellipse cx="642" cy="430" rx="7.5" ry="5" fill="#c8c8c8"/><text class="lgb" x="658" y="433.5">Laos (4)</text>
<ellipse cx="642" cy="442" rx="7.5" ry="5" fill="#3b6b2a"/><text class="lgb" x="658" y="445.5">Myanmar (4)</text>
<ellipse cx="642" cy="454" rx="7.5" ry="5" fill="#4a5ec4"/><text class="lgb" x="658" y="457.5">Philippines (1)</text>
<ellipse cx="642" cy="466" rx="7.5" ry="5" fill="#000"/><text class="lgb" x="658" y="469.5">Indonesia (1)</text>
<ellipse cx="642" cy="478" rx="7.5" ry="5" fill="#a8cf3c"/><text class="lgb" x="658" y="481.5">Northeast India (6)</text>
<ellipse cx="642" cy="490" rx="7.5" ry="5" fill="#f4ea2a"/><text class="lgb" x="658" y="493.5">India (5)</text>
<ellipse cx="642" cy="502" rx="7" ry="4.6" fill="#fff" stroke="#111" stroke-width="1.5"/><text class="lgb" x="658" y="505.5">Commercial lines (5)</text>
</g>
</svg>
